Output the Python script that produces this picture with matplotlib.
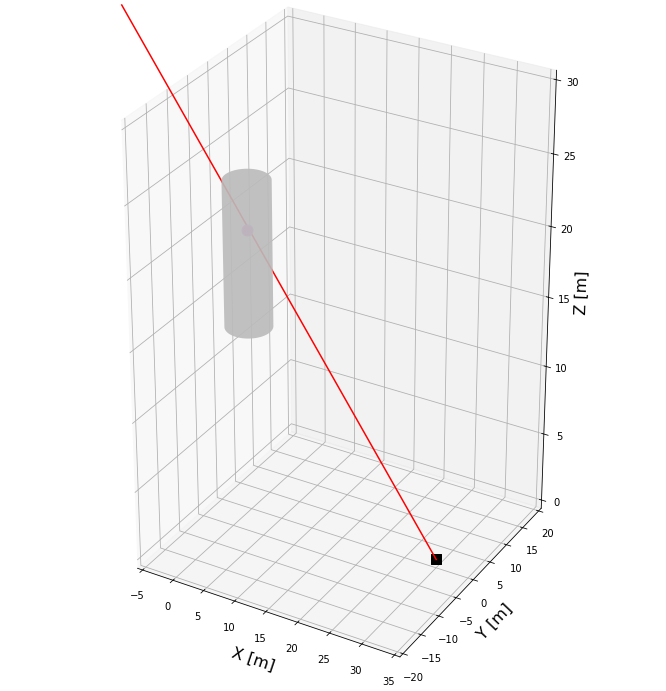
import numpy as np
import matplotlib
matplotlib.use("Agg")
import matplotlib.pyplot as plt
from mpl_toolkits.mplot3d.art3d import Poly3DCollection

x_ticks = [-5, 0, 5, 10, 15, 20, 25, 30, 35]
y_ticks = [-20, -15, -10, -5, 0, 5, 10, 15, 20]
z_ticks = [0, 5, 10, 15, 20, 25, 30]

# cylinder
cyl_center = [0, 0]
cyl_radius = 3.4
cyl_z = [12.95, 23.25]

# ray from the sensor through the hub point
sensor = [30, 0, 0]
hub = [0, 0, 19.8]
ray_end = [-19.4, 0, 33]

fig = plt.figure(figsize=(666 / 72, 691 / 72), dpi=72)
ax = fig.add_axes([0.0768, 0.0926, 0.852, 0.852], projection="3d", computed_zorder=False)
# stretch the cube to fill the axes
ax.apply_aspect = lambda position=None: None
ax.set_box_aspect((1, 1, 1.582), zoom=1.113)
ax.view_init(elev=28.5, azim=-60)
ax.patch.set_visible(False)

# outline of the cylinder as one polygon: front arc at the bottom, back arc at the top
front = np.radians(np.linspace(-150, 30, 60))
back = np.radians(np.linspace(30, 210, 60))
xs = cyl_center[0] + cyl_radius * np.cos(np.r_[front, back])
ys = cyl_center[1] + cyl_radius * np.sin(np.r_[front, back])
zs = np.r_[np.full(60, cyl_z[0]), np.full(60, cyl_z[1])]

ax.scatter([sensor[0]], [sensor[1]], [sensor[2]], color="black", marker="s", s=110, zorder=1)
ax.plot([sensor[0], ray_end[0]], [sensor[1], ray_end[1]], [sensor[2], ray_end[2]], color="red", zorder=2, clip_on=False)
ax.scatter([hub[0]], [hub[1]], [hub[2]], color="orchid", s=120, zorder=2)
cyl = Poly3DCollection([list(zip(xs, ys, zs))], facecolor="#bbbbbb", edgecolor="none", alpha=0.91, zorder=3)
ax.add_collection3d(cyl)

ax.set_xlim(-5, 35, view_margin=1 / 48)
ax.set_ylim(-20, 20, view_margin=1 / 48)
ax.set_zlim(0, 30, view_margin=1 / 48)
ax.set_xticks(x_ticks)
ax.set_yticks(y_ticks)
ax.set_zticks(z_ticks)
ax.set_xlabel("X [m]", fontsize=16)
ax.set_ylabel("Y [m]", fontsize=16)
ax.set_zlabel("Z [m]", fontsize=16)

fig.savefig("out.png", dpi=72)
